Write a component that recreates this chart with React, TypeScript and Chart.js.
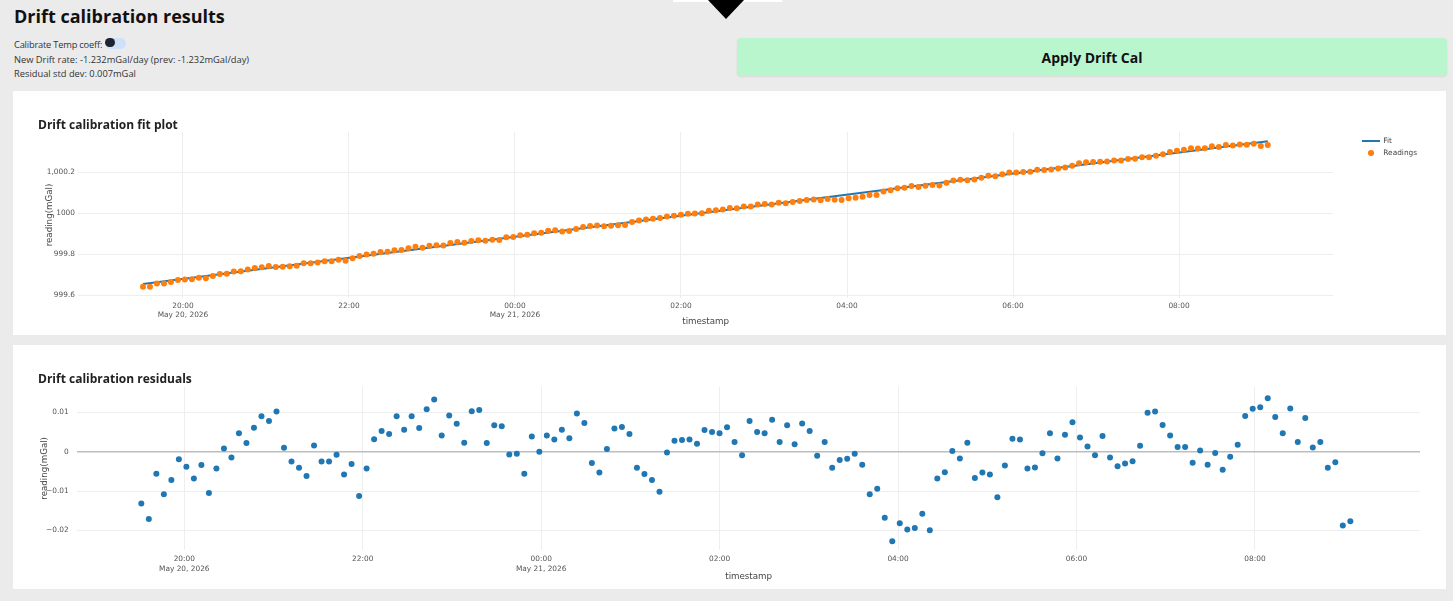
import React, { useEffect, useRef } from "react";
import { Chart, registerables } from "chart.js";

Chart.register(...registerables);

// Readings are sampled every ~5 minutes starting at this local time
const START_TIME = "2026-05-20T19:31:06";
const SAMPLE_INTERVAL_S = 303;
const DAY_ORIGIN = "2026-05-20T00:00:00";

// Residual of each reading against the linear drift fit (mGal)
const RESIDUALS = [
  -0.0132, -0.0171, -0.0056, -0.0108, -0.0072, -0.0019, -0.0038, -0.0068, -0.0034, -0.0105,
  -0.0043, 0.0008, -0.0015, 0.0047, 0.0022, 0.0061, 0.009, 0.0078, 0.0102, 0.001,
  -0.0025, -0.0041, -0.0062, 0.0016, -0.0025, -0.0025, -0.0008, -0.0058, -0.0031, -0.0113,
  -0.0043, 0.0032, 0.0053, 0.0045, 0.009, 0.0056, 0.009, 0.006, 0.0108, 0.0133,
  0.0041, 0.0092, 0.0071, 0.0023, 0.0103, 0.0106, 0.0022, 0.0067, 0.0065, -0.0007,
  -0.0005, -0.0056, 0.0039, 0.0, 0.0041, 0.0031, 0.0056, 0.0034, 0.0097, 0.0073,
  -0.0029, -0.0053, 0.0007, 0.0059, 0.0063, 0.0045, -0.0041, -0.0057, -0.0072, -0.0102,
  -0.0002, 0.0028, 0.003, 0.0031, 0.002, 0.0055, 0.005, 0.0047, 0.0062, 0.0025,
  -0.0009, 0.0078, 0.005, 0.0047, 0.0081, 0.0025, 0.0067, 0.0019, 0.0072, 0.0053,
  -0.001, 0.0025, -0.0041, -0.0021, -0.0018, -0.0005, -0.0033, -0.0108, -0.0094, -0.0168,
  -0.0228, -0.0182, -0.0198, -0.0194, -0.0158, -0.02, -0.0068, -0.0052, 0.0002, -0.0017,
  0.0023, -0.0067, -0.0053, -0.0058, -0.0116, -0.0035, 0.0033, 0.0031, -0.0043, -0.004,
  -0.0004, 0.0047, -0.0017, 0.0043, 0.0075, 0.0036, 0.0013, -0.0009, 0.004, -0.0015,
  -0.0037, -0.003, -0.0024, 0.0015, 0.0099, 0.0102, 0.0068, 0.0041, 0.0012, 0.0012,
  -0.0028, 0.0003, -0.0033, -0.0003, -0.0046, -0.0013, 0.0018, 0.0091, 0.0109, 0.0113,
  0.0136, 0.0088, 0.0047, 0.011, 0.0025, 0.0086, 0.0011, 0.0025, -0.0041, -0.0027,
  -0.0188, -0.0177,
];

// Linear drift fit evaluated at the first and the last reading (mGal)
const FIT_START = 999.655;
const FIT_END = 1000.351;

// Axis ticks (hours counted from midnight of May 20)
const X_TICK_HOURS = [20, 22, 24, 26, 28, 30, 32];
const X_TICK_LABELS: (string | string[])[] = [
  ["20:00", "May 20, 2026"],
  "22:00",
  ["00:00", "May 21, 2026"],
  "02:00",
  "04:00",
  "06:00",
  "08:00",
];
const FIT_Y_TICKS = [999.6, 999.8, 1000, 1000.2];
const FIT_Y_LABELS = ["999.6", "999.8", "1000", "1,000.2"];
const RES_Y_TICKS = [-0.02, -0.01, 0, 0.01];
const RES_Y_LABELS = ["\u22120.02", "\u22120.01", "0", "0.01"];

const BLUE = "#1f77b4";
const ORANGE = "#ff7f0e";
const TICK_FONT = "DejaVu Sans, Verdana, sans-serif";
const HTML_FONT = "'Open Sans', 'Noto Sans', sans-serif";

const hoursOf = (iso: string) =>
  (new Date(iso).getTime() - new Date(DAY_ORIGIN).getTime()) / 3600000;

const T0 = hoursOf(START_TIME);
const TIMES = RESIDUALS.map((_, i) => T0 + (i * SAMPLE_INTERVAL_S) / 3600);
const T_LAST = TIMES[TIMES.length - 1];

// reading = fit(t) + residual(t)
const fitAt = (t: number) => FIT_START + ((FIT_END - FIT_START) * (t - T0)) / (T_LAST - T0);
const READINGS = TIMES.map((t, i) => fitAt(t) + RESIDUALS[i]);

const labelFrom = (ticks: number[], labels: any[]) => (value: number) => {
  const i = ticks.findIndex((t) => Math.abs(t - value) < 1e-9);
  return i >= 0 ? labels[i] : "";
};

type Layout = {
  xMin: number;
  xMax: number;
  yMin: number;
  yMax: number;
  yTicks: number[];
  yLabels: string[];
  yAxisWidth: number;
  yTickPad: number;
  yTitlePad: number;
  xAxisHeight: number;
  xTickPad: number;
  xTitlePad: number;
  padRight: number;
  padTop: number;
  padBottom: number;
  zeroLine: boolean;
};

function scalesFor(l: Layout) {
  return {
    x: {
      type: "linear",
      min: l.xMin,
      max: l.xMax,
      afterBuildTicks: (s: any) => {
        s.ticks = X_TICK_HOURS.map((v) => ({ value: v }));
      },
      afterFit: (s: any) => {
        s.height = l.xAxisHeight;
      },
      ticks: {
        autoSkip: false,
        maxRotation: 0,
        color: "#555",
        padding: l.xTickPad,
        font: { family: TICK_FONT, size: 7.4, lineHeight: 1.28 },
        callback: labelFrom(X_TICK_HOURS, X_TICK_LABELS),
      },
      grid: { color: "#eeeeee", lineWidth: 1, drawTicks: false },
      border: { display: false },
      title: {
        display: true,
        text: "timestamp",
        color: "#444",
        font: { family: TICK_FONT, size: 8.7, lineHeight: 1.2 },
        padding: { top: 0, bottom: l.xTitlePad },
      },
    },
    y: {
      type: "linear",
      min: l.yMin,
      max: l.yMax,
      afterBuildTicks: (s: any) => {
        s.ticks = l.yTicks.map((v) => ({ value: v }));
      },
      afterFit: (s: any) => {
        s.width = l.yAxisWidth;
      },
      ticks: {
        color: "#555",
        padding: l.yTickPad,
        font: { family: TICK_FONT, size: 7.4 },
        callback: labelFrom(l.yTicks, l.yLabels),
      },
      grid: {
        drawTicks: false,
        color: (c: any) => (l.zeroLine && c.tick && c.tick.value === 0 ? "#bdbdbd" : "#eeeeee"),
        lineWidth: (c: any) => (l.zeroLine && c.tick && c.tick.value === 0 ? 1.5 : 1),
      },
      border: { display: false },
      title: {
        display: true,
        text: "reading(mGal)",
        color: "#444",
        font: { family: TICK_FONT, size: 8.7, lineHeight: 1.2 },
        padding: { top: l.yTitlePad, bottom: 0 },
      },
    },
  };
}

function optionsFor(l: Layout) {
  return {
    responsive: false,
    animation: false,
    events: [],
    layout: { padding: { left: 0, right: l.padRight, top: l.padTop, bottom: l.padBottom } },
    plugins: { legend: { display: false }, tooltip: { enabled: false } },
    scales: scalesFor(l),
  };
}

const FIT_LAYOUT: Layout = {
  xMin: 18.739,
  xMax: 33.855,
  yMin: 999.5868,
  yMax: 1000.3966,
  yTicks: FIT_Y_TICKS,
  yLabels: FIT_Y_LABELS,
  yAxisWidth: 65.3,
  yTickPad: 3.3,
  yTitlePad: 31.8,
  xAxisHeight: 37,
  xTickPad: 3,
  xTitlePad: 7.8,
  padRight: 113,
  padTop: 41,
  padBottom: 0,
  zeroLine: false,
};

const RES_LAYOUT: Layout = {
  xMin: 18.8007,
  xMax: 33.85,
  yMin: -0.02501,
  yMax: 0.01654,
  yTicks: RES_Y_TICKS,
  yLabels: RES_Y_LABELS,
  yAxisWidth: 64.3,
  yTickPad: 8.6,
  yTitlePad: 26.1,
  xAxisHeight: 37,
  xTickPad: 4.5,
  xTitlePad: 4.8,
  padRight: 26,
  padTop: 41.7,
  padBottom: 2,
  zeroLine: true,
};

const PANEL_W = 1433;
const PANEL_H = 244;

function useChart(build: () => any) {
  const ref = useRef<HTMLCanvasElement | null>(null);
  useEffect(() => {
    if (!ref.current) return;
    const chart = new Chart(ref.current, build());
    return () => chart.destroy();
  }, []);
  return ref;
}

function FitPlot() {
  const ref = useChart(() => ({
    type: "scatter",
    data: {
      datasets: [
        {
          label: "Fit",
          type: "line",
          data: [
            { x: T0, y: FIT_START },
            { x: T_LAST, y: FIT_END },
          ],
          borderColor: BLUE,
          borderWidth: 2,
          pointRadius: 0,
          fill: false,
          order: 2,
        },
        {
          label: "Readings",
          data: TIMES.map((t, i) => ({ x: t, y: READINGS[i] })),
          backgroundColor: ORANGE,
          borderWidth: 0,
          pointRadius: 3,
          order: 1,
        },
      ],
    },
    options: optionsFor(FIT_LAYOUT),
  }));
  return <canvas ref={ref} width={PANEL_W} height={PANEL_H} style={{ position: "absolute", left: 0, top: 0 }} />;
}

function ResidualPlot() {
  const ref = useChart(() => ({
    type: "scatter",
    data: {
      datasets: [
        {
          label: "Residuals",
          data: TIMES.map((t, i) => ({ x: t, y: RESIDUALS[i] })),
          backgroundColor: BLUE,
          borderWidth: 0,
          pointRadius: 3,
        },
      ],
    },
    options: optionsFor(RES_LAYOUT),
  }));
  return <canvas ref={ref} width={PANEL_W} height={PANEL_H} style={{ position: "absolute", left: 0, top: 0 }} />;
}

const textLine = (left: number, top: number, size: number, lh: number, extra: any = {}) => ({
  position: "absolute" as const,
  left,
  top,
  fontFamily: HTML_FONT,
  fontSize: size,
  lineHeight: `${lh}px`,
  whiteSpace: "nowrap" as const,
  ...extra,
});

export default function App() {
  return (
    <div
      style={{
        position: "absolute",
        left: 0,
        top: 0,
        width: 1453,
        height: 601,
        background: "#ebebeb",
        overflow: "hidden",
      }}
    >
      {/* page header */}
      <div style={{ position: "absolute", left: 673, top: 0, width: 109, height: 2, background: "#fff" }} />
      <div
        style={{
          position: "absolute",
          left: 708,
          top: 0,
          width: 0,
          height: 0,
          borderLeft: "18.5px solid transparent",
          borderRight: "18.5px solid transparent",
          borderTop: "19px solid #000",
        }}
      />
      <div style={textLine(14, 4.3, 18, 24, { fontWeight: 700, color: "#111" })}>Drift calibration results</div>
      <div style={textLine(14, 38.7, 9.3, 12, { color: "#333", letterSpacing: "-0.2px" })}>
        Calibrate Temp coeff:
      </div>
      <div
        style={{
          position: "absolute",
          left: 105,
          top: 37.5,
          width: 21,
          height: 11,
          borderRadius: 5.5,
          background: "#cfe0fb",
        }}
      />
      <div
        style={{
          position: "absolute",
          left: 105.3,
          top: 37.8,
          width: 9.5,
          height: 9.5,
          borderRadius: "50%",
          background: "#1c2333",
        }}
      />
      <div style={textLine(14, 53.7, 9.3, 12, { color: "#333" })}>
        New Drift rate: -1.232mGal/day (prev: -1.232mGal/day)
      </div>
      <div style={textLine(14, 68.1, 9.3, 12, { color: "#333" })}>Residual std dev: 0.007mGal</div>
      <div
        style={{
          position: "absolute",
          left: 737,
          top: 38,
          width: 710,
          height: 38,
          borderRadius: 4,
          background: "#b9f6ce",
          boxShadow: "0 1px 2px rgba(0,0,0,0.08)",
          display: "flex",
          alignItems: "center",
          justifyContent: "center",
          fontFamily: HTML_FONT,
          fontWeight: 700,
          fontSize: 14,
          color: "#111",
        }}
      >
        Apply Drift Cal
      </div>

      {/* fit panel */}
      <div style={{ position: "absolute", left: 13, top: 91, width: PANEL_W, height: PANEL_H, background: "#fff" }}>
        <FitPlot />
        <div style={textLine(25, 116.7 - 91, 12, 16, { fontWeight: 700, color: "#222" })}>
          Drift calibration fit plot
        </div>
        <div style={{ position: "absolute", left: 1362 - 13, top: 139.7 - 91, width: 18, height: 2, background: BLUE }} />
        <div
          style={{
            position: "absolute",
            left: 1368 - 13,
            top: 150 - 91,
            width: 5.5,
            height: 5.5,
            borderRadius: "50%",
            background: ORANGE,
          }}
        />
        <div style={textLine(1383.3 - 13, 135.7 - 91, 7.4, 10, { fontFamily: TICK_FONT, color: "#444" })}>Fit</div>
        <div style={textLine(1383.3 - 13, 147.7 - 91, 7.4, 10, { fontFamily: TICK_FONT, color: "#444" })}>
          Readings
        </div>
      </div>

      {/* residual panel */}
      <div style={{ position: "absolute", left: 13, top: 345, width: PANEL_W, height: PANEL_H, background: "#fff" }}>
        <ResidualPlot />
        <div style={textLine(25, 370.7 - 345, 12, 16, { fontWeight: 700, color: "#222" })}>
          Drift calibration residuals
        </div>
      </div>
    </div>
  );
}
